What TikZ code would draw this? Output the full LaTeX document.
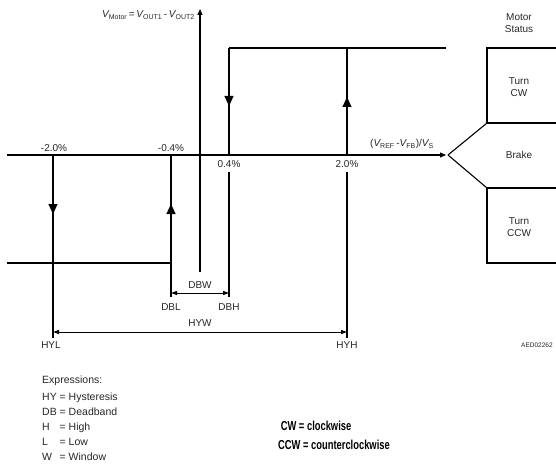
\documentclass[tikz,border=0pt]{standalone}
\usepackage{fontspec}
\setmainfont{Liberation Sans}
\newfontfamily\cwfont{Liberation Sans}[FakeStretch=0.72]
\usetikzlibrary{arrows.meta}
\begin{document}
\begin{tikzpicture}[x=1pt,y=-1pt,
  ln/.style={line width=1.1pt},
  lbl/.style={font=\fontsize{10}{12}\selectfont, inner sep=0pt, text=black!85, align=center},
  midtip/.style={line width=1.1pt,-{Triangle[length=10pt,width=9pt]}},
  axtip/.style={line width=1.1pt,-{Triangle[length=6pt,width=5pt]}},
  dim/.style={line width=1pt,{Triangle[length=6pt,width=4pt]}-{Triangle[length=6pt,width=4pt]}}
]
\useasboundingbox (0,0) rectangle (556,468);
\clip (0,0) rectangle (556,468);
% coordinates
\coordinate (axL) at (7,155);
\coordinate (axR) at (446,155);
\coordinate (vB) at (200,272);
\coordinate (vT) at (200,9);
\coordinate (lowL) at (7,263);
\coordinate (lowR) at (171,263);
\coordinate (m2T) at (53,155);
\coordinate (m2B) at (53,338);
\coordinate (m04T) at (171,155);
\coordinate (m04B) at (171,297);
\coordinate (p04T) at (229,48);
\coordinate (p04M) at (229,155);
\coordinate (p04L) at (229,172);
\coordinate (p04B) at (229,297);
\coordinate (topR) at (446,48);
\coordinate (p2T) at (347,48);
\coordinate (p2M) at (347,155);
\coordinate (p2L) at (347,172);
\coordinate (p2B) at (347,338);
\coordinate (dbL) at (171,293);
\coordinate (dbR) at (229,293);
\coordinate (hyL) at (53,332);
\coordinate (hyR) at (347,332);
\coordinate (vx) at (448,155);
\coordinate (b1) at (487,48);
\coordinate (b2) at (487,123);
\coordinate (b3) at (487,188);
\coordinate (b4) at (487,263);
\coordinate (e1) at (560,48);
\coordinate (e2) at (560,123);
\coordinate (e3) at (560,188);
\coordinate (e4) at (560,263);
% axes
\draw[axtip] (axL) -- (axR);
\draw[axtip] (vB) -- (vT);
% hysteresis lines
\draw[ln] (lowL) -- (lowR);
\draw[ln] (m2T) -- (m2B);
\draw[ln] (m04T) -- (m04B);
\draw[ln] (p04T) -- (p04M);
\draw[ln] (p04L) -- (p04B);
\draw[ln] (p04T) -- (topR);
\draw[ln] (p2T) -- (p2M);
\draw[ln] (p2L) -- (p2B);
% direction arrows
\coordinate (a1s) at (53,198); \coordinate (a1e) at (53,214);
\coordinate (a2s) at (171,220); \coordinate (a2e) at (171,204);
\coordinate (a3s) at (229,90); \coordinate (a3e) at (229,106);
\coordinate (a4s) at (347,113); \coordinate (a4e) at (347,97);
\draw[midtip] (a1s) -- (a1e);
\draw[midtip] (a2s) -- (a2e);
\draw[midtip] (a3s) -- (a3e);
\draw[midtip] (a4s) -- (a4e);
% dimension arrows
\draw[dim] (dbL) -- (dbR);
\draw[dim] (hyL) -- (hyR);
% status boxes
\draw[ln] (vx) -- (b2);
\draw[ln] (vx) -- (b3);
\draw[ln] (e1) -- (b1) -- (b2) -- (e2);
\draw[ln] (e3) -- (b3) -- (b4) -- (e4);
% labels
\node[lbl] (lm2) at (54,148) {-2.0\%};
\node[lbl] (lm04) at (171,148) {-0.4\%};
\node[lbl] (lp04) at (229,164) {0.4\%};
\node[lbl] (lp2) at (347,164) {2.0\%};
\node[lbl,anchor=east] (lv) at (195,15) {{\itshape V}\textsubscript{Motor}\,=\,{\itshape V}\textsubscript{OUT1}\,-\,{\itshape V}\textsubscript{OUT2}};
\node[lbl] (lax) at (402,144) {({\itshape V}\textsubscript{REF}\,-{\itshape V}\textsubscript{FB})/{\itshape V}\textsubscript{S}};
\node[lbl] (lms) at (519,23) {Motor\\Status};
\node[lbl] (lcw) at (519,87) {Turn\\CW};
\node[lbl] (lbr) at (519,155) {Brake};
\node[lbl] (lccw) at (519,227) {Turn\\CCW};
\node[lbl] (ldbw) at (200,285) {DBW};
\node[lbl] (ldbl) at (171,307) {DBL};
\node[lbl] (ldbh) at (229,307) {DBH};
\node[lbl] (lhyw) at (200,323) {HYW};
\node[lbl] (lhyl) at (51,345) {HYL};
\node[lbl] (lhyh) at (347,345) {HYH};
\node[lbl,anchor=west,font=\fontsize{6.5}{7}\selectfont] (laed) at (521,345) {AED02262};
\node[lbl,anchor=north west,align=left,font=\fontsize{10.5}{14}\selectfont] (lexp) at (42,376)
 {Expressions:\\[4pt]
  \begin{tabular}{@{}l@{\ }l@{}}
  HY & = Hysteresis\\[1pt]
  DB & = Deadband\\[1pt]
  H & = High\\[1pt]
  L & = Low\\[1pt]
  W & = Window
  \end{tabular}};
\node[lbl,anchor=north west,align=left,text=black,font=\cwfont\bfseries\fontsize{13}{19}\selectfont] (lcwx) at (278,421)
 {\ CW = clockwise\\CCW = counterclockwise};
\end{tikzpicture}
\end{document}
